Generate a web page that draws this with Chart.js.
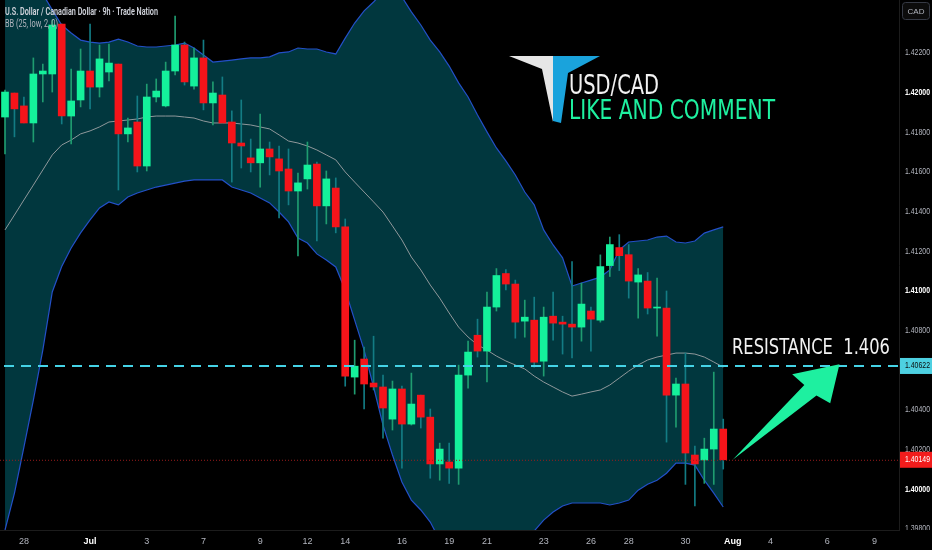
<!DOCTYPE html>
<html>
<head>
<meta charset="utf-8">
<script src="https://cdn.jsdelivr.net/npm/chart.js@4.4.1/dist/chart.umd.min.js"></script>
<style>
  html, body { margin: 0; background: #000; }
  #wrap { width: 932px; height: 550px; position: relative; }
</style>
</head>
<body>
<div id="wrap"><canvas id="chart-usdcad"></canvas></div>
<script>
// 9h candles (index 0 = first visible candle)
const open = [
  1.41877, 1.41998, 1.41933, 1.41847, 1.42094, 1.42094, 1.42346, 1.41882, 1.41963, 1.42109,
  1.42028, 1.42104, 1.42144, 1.41792, 1.41852, 1.41630, 1.41978, 1.41933, 1.42109, 1.42240,
  1.42033, 1.42175, 1.41948, 1.41988, 1.41852, 1.41746, 1.41671, 1.41646, 1.41716, 1.41666,
  1.41615, 1.41504, 1.41565, 1.41640, 1.41429, 1.41519, 1.41323, 1.40566, 1.40657, 1.40536,
  1.40516, 1.40354, 1.40506, 1.40329, 1.40475, 1.40364, 1.40128, 1.40138, 1.40107, 1.40576,
  1.40777, 1.40697, 1.40919, 1.41088, 1.41035, 1.40848, 1.40853, 1.40646, 1.40873, 1.40843,
  1.40833, 1.40818, 1.40899, 1.40853, 1.41128, 1.41219, 1.41183, 1.41045, 1.41050, 1.40914,
  1.40914, 1.40475, 1.40531, 1.40173, 1.40148, 1.40203, 1.40304
];
const high = [
  1.42013, 1.41998, 1.41978, 1.42175, 1.42144, 1.42366, 1.42346, 1.42119, 1.42220, 1.42346,
  1.42240, 1.42245, 1.42144, 1.41872, 1.41983, 1.42043, 1.42069, 1.42154, 1.42386, 1.42255,
  1.42225, 1.42265, 1.42054, 1.42079, 1.41908, 1.41963, 1.41766, 1.41892, 1.41751, 1.41731,
  1.41716, 1.41595, 1.41751, 1.41650, 1.41605, 1.41570, 1.41363, 1.40752, 1.40717, 1.40772,
  1.40576, 1.40546, 1.40520, 1.40586, 1.40475, 1.40405, 1.40233, 1.40233, 1.40626, 1.40747,
  1.40858, 1.40995, 1.41113, 1.41108, 1.41055, 1.40954, 1.40969, 1.40919, 1.40995, 1.40873,
  1.41148, 1.41040, 1.40919, 1.41182, 1.41272, 1.41284, 1.41234, 1.41113, 1.41093, 1.41065,
  1.41000, 1.40561, 1.40687, 1.40218, 1.40258, 1.40591, 1.40354
];
const low = [
  1.41691, 1.41777, 1.41847, 1.41751, 1.41953, 1.42003, 1.41842, 1.41741, 1.41928, 1.41918,
  1.41978, 1.42059, 1.41509, 1.41751, 1.41600, 1.41605, 1.41953, 1.41928, 1.42089, 1.42038,
  1.42018, 1.41913, 1.41837, 1.41847, 1.41549, 1.41620, 1.41600, 1.41524, 1.41585, 1.41368,
  1.41434, 1.41177, 1.41514, 1.41252, 1.41338, 1.41293, 1.40520, 1.40480, 1.40405, 1.40501,
  1.40258, 1.40299, 1.40107, 1.40324, 1.40309, 1.40056, 1.40046, 1.40030, 1.40025, 1.40510,
  1.40667, 1.40541, 1.40899, 1.41005, 1.40762, 1.40767, 1.40616, 1.40571, 1.40752, 1.40682,
  1.40662, 1.40747, 1.40697, 1.40843, 1.41073, 1.41103, 1.40964, 1.40863, 1.40884, 1.40772,
  1.40238, 1.40314, 1.40025, 1.39916, 1.40030, 1.40025, 1.40102
];
const close = [
  1.42003, 1.41918, 1.41847, 1.42094, 1.42109, 1.42341, 1.41882, 1.41958, 1.42109, 1.42028,
  1.42170, 1.42149, 1.41792, 1.41822, 1.41630, 1.41978, 1.42008, 1.42109, 1.42240, 1.42054,
  1.42175, 1.41948, 1.41998, 1.41847, 1.41746, 1.41731, 1.41646, 1.41716, 1.41676, 1.41605,
  1.41504, 1.41545, 1.41635, 1.41429, 1.41565, 1.41323, 1.40571, 1.40621, 1.40531, 1.40516,
  1.40410, 1.40506, 1.40329, 1.40430, 1.40364, 1.40128, 1.40203, 1.40107, 1.40576, 1.40692,
  1.40697, 1.40919, 1.41078, 1.41035, 1.40843, 1.40868, 1.40641, 1.40868, 1.40838, 1.40833,
  1.40818, 1.40934, 1.40858, 1.41123, 1.41234, 1.41178, 1.41050, 1.41081, 1.40914, 1.40919,
  1.40475, 1.40531, 1.40183, 1.40128, 1.40203, 1.40304, 1.40149
];

// Bollinger bands BB (25, low, 2, 0)
const bbUpper = [
  1.42769, 1.42709, 1.42643, 1.42578, 1.42497, 1.42417, 1.42341, 1.42301, 1.42265, 1.42255,
  1.42250, 1.42255, 1.42270, 1.42255, 1.42235, 1.42230, 1.42230, 1.42235, 1.42240, 1.42250,
  1.42225, 1.42190, 1.42154, 1.42159, 1.42164, 1.42170, 1.42175, 1.42175, 1.42180, 1.42200,
  1.42205, 1.42225, 1.42220, 1.42220, 1.42205, 1.42195, 1.42275, 1.42351, 1.42412, 1.42457,
  1.42507, 1.42517, 1.42482, 1.42407, 1.42341, 1.42265, 1.42205, 1.42134, 1.42049, 1.41978,
  1.41887, 1.41802, 1.41721, 1.41656, 1.41585, 1.41499, 1.41434, 1.41308, 1.41232, 1.41167,
  1.41025, 1.41040, 1.41055, 1.41070, 1.41106, 1.41207, 1.41247, 1.41252, 1.41257, 1.41272,
  1.41277, 1.41247, 1.41242, 1.41252, 1.41292, 1.41308, 1.41323
];
const bbMid = [
  1.41308, 1.41383, 1.41459, 1.41534, 1.41610, 1.41686, 1.41736, 1.41761, 1.41792, 1.41807,
  1.41827, 1.41852, 1.41857, 1.41862, 1.41867, 1.41877, 1.41882, 1.41882, 1.41882, 1.41877,
  1.41872, 1.41857, 1.41847, 1.41847, 1.41847, 1.41842, 1.41837, 1.41827, 1.41817, 1.41787,
  1.41756, 1.41746, 1.41731, 1.41711, 1.41686, 1.41661, 1.41600, 1.41549, 1.41499, 1.41449,
  1.41398, 1.41328, 1.41257, 1.41171, 1.41106, 1.41030, 1.40964, 1.40889, 1.40818, 1.40768,
  1.40728, 1.40702, 1.40672, 1.40647, 1.40627, 1.40607, 1.40571, 1.40541, 1.40516, 1.40491,
  1.40470, 1.40480, 1.40491, 1.40501, 1.40526, 1.40561, 1.40596, 1.40627, 1.40652, 1.40667,
  1.40677, 1.40687, 1.40687, 1.40682, 1.40667, 1.40642, 1.40616
];
const bbLower = [
  1.39795, 1.39981, 1.40213, 1.40450, 1.40702, 1.40995, 1.41123, 1.41217, 1.41293, 1.41358,
  1.41419, 1.41449, 1.41434, 1.41474, 1.41494, 1.41509, 1.41524, 1.41534, 1.41544, 1.41554,
  1.41560, 1.41560, 1.41560, 1.41560, 1.41524, 1.41509, 1.41494, 1.41469, 1.41444, 1.41398,
  1.41348, 1.41267, 1.41242, 1.41187, 1.41156, 1.41121, 1.41005, 1.40853, 1.40702, 1.40516,
  1.40324, 1.40173, 1.40037, 1.39946, 1.39896, 1.39835, 1.39744, 1.39679, 1.39634, 1.39603,
  1.39588, 1.39593, 1.39613, 1.39644, 1.39684, 1.39734, 1.39790, 1.39845, 1.39886, 1.39916,
  1.39931, 1.39931, 1.39931, 1.39931, 1.39921, 1.39931, 1.39946, 1.39996, 1.40026, 1.40046,
  1.40081, 1.40132, 1.40132, 1.40122, 1.40046, 1.39981, 1.39911
];

// time axis labels (candle index -> label)
const tickIdx = [2, 9, 15, 21, 27, 32, 36, 42, 47, 51, 57, 62, 66, 72, 77, 81, 87, 92];
const tickText = ['28', 'Jul', '3', '7', '9', '12', '14', '16', '19', '21', '23', '26', '28', '30', 'Aug', '4', '6', '9'];
const monthTicks = ['Jul', 'Aug'];

// price levels
const resistance = 1.40622;
const lastPrice = 1.40149;
const arrowFrom = [77, 1.40149];
const arrowTo = [88.3, 1.40631];

const COLORS = {
  up: '#14f19b',
  down: '#f5141a',
  wickUp: '#1f9c70',
  wickDown: '#137c84',
  band: '#2350c8',
  bandFill: 'rgb(1,55,62)',
  mid: '#8f989b',
  cyan: '#45d3e6',
  axisText: '#b2b5be'
};

const idx = open.map((_, i) => i);
const isUp = i => close[i] >= open[i];

const overlay = {
  id: 'overlay',
  afterDraw(chart) {
    const { ctx, chartArea: a, scales: { x, y } } = chart;
    ctx.save();

    // price axis labels (cut at the bottom of the plot like the original)
    ctx.save();
    ctx.beginPath();
    ctx.rect(a.right, 0, 40, a.bottom);
    ctx.clip();
    ctx.textBaseline = 'middle';
    ctx.textAlign = 'left';
    for (const t of y.ticks) {
      const v = +t.value.toFixed(5);
      const py = y.getPixelForValue(v);
      const whole = Math.abs(v * 100 - Math.round(v * 100)) < 1e-6;
      ctx.font = (whole ? 'bold ' : '') + '9px "Liberation Sans"';
      ctx.fillStyle = whole ? '#ffffff' : COLORS.axisText;
      ctx.fillText(v.toFixed(5), 905, py, 25);
    }
    ctx.restore();

    // resistance dashed line
    const ry = y.getPixelForValue(resistance);
    ctx.strokeStyle = COLORS.cyan;
    ctx.lineWidth = 2;
    ctx.setLineDash([10, 7]);
    ctx.beginPath();
    ctx.moveTo(a.left + 4, ry);
    ctx.lineTo(a.right, ry);
    ctx.stroke();

    // last price dotted line
    const ly = y.getPixelForValue(lastPrice);
    ctx.strokeStyle = '#9a1c1c';
    ctx.lineWidth = 1;
    ctx.setLineDash([1, 2]);
    ctx.beginPath();
    ctx.moveTo(a.left, ly + 0.5);
    ctx.lineTo(a.right, ly + 0.5);
    ctx.stroke();
    ctx.setLineDash([]);

    // axis price boxes
    ctx.textBaseline = 'middle';
    ctx.textAlign = 'left';
    ctx.fillStyle = '#4dd0e1';
    ctx.fillRect(a.right + 1, ry - 8, 32, 16);
    ctx.fillStyle = '#0b0b0b';
    ctx.font = '9px "Liberation Sans"';
    ctx.fillText(resistance.toFixed(5), 905, ry, 25);
    ctx.fillStyle = '#f21c1c';
    ctx.fillRect(a.right + 1, ly - 8, 32, 16);
    ctx.fillStyle = '#ffffff';
    ctx.fillText(lastPrice.toFixed(5), 905, ly, 25);

    // currency box
    ctx.strokeStyle = '#363a45';
    ctx.fillStyle = '#0c0c0c';
    ctx.beginPath();
    ctx.roundRect(902.5, 2.5, 27, 17, 3);
    ctx.fill();
    ctx.stroke();
    ctx.fillStyle = COLORS.axisText;
    ctx.textAlign = 'center';
    ctx.font = '8px "Liberation Sans"';
    ctx.fillText('CAD', 916, 11.5);

    // header
    ctx.textAlign = 'left';
    ctx.textBaseline = 'alphabetic';
    ctx.font = '600 10px Roboto';
    ctx.fillStyle = '#d1d4dc';
    ctx.fillText('U.S. Dollar / Canadian Dollar · 9h · Trade Nation', 5, 15, 153);
    ctx.font = '10px Roboto';
    ctx.fillStyle = COLORS.axisText;
    ctx.fillText('BB (25, low, 2, 0)', 5, 27, 53);

    // logo
    ctx.fillStyle = '#e6e6e6';
    ctx.beginPath();
    ctx.moveTo(509, 56); ctx.lineTo(553, 56); ctx.lineTo(553, 122); ctx.lineTo(542, 69);
    ctx.closePath();
    ctx.fill();
    ctx.fillStyle = '#1aa3dc';
    ctx.beginPath();
    ctx.moveTo(553, 56); ctx.lineTo(600, 56); ctx.lineTo(568, 73); ctx.lineTo(561, 123); ctx.lineTo(553, 121);
    ctx.closePath();
    ctx.fill();

    ctx.font = '27px "DejaVu Sans"';
    ctx.fillStyle = '#f2f2f2';
    ctx.fillText('USD/CAD', 569, 94, 90);
    ctx.fillStyle = '#1ef0a0';
    ctx.fillText('LIKE AND COMMENT', 569, 119, 206);

    // resistance text
    ctx.font = '22px "DejaVu Sans"';
    ctx.fillStyle = '#f2f2f2';
    ctx.fillText('RESISTANCE  1.406', 732, 354, 158);

    // arrow
    const tx = x.getPixelForValue(arrowFrom[0]), ty = y.getPixelForValue(arrowFrom[1]);
    const hx = x.getPixelForValue(arrowTo[0]), hy = y.getPixelForValue(arrowTo[1]);
    const len = Math.hypot(hx - tx, hy - ty);
    const ux = (hx - tx) / len, uy = (hy - ty) / len;
    const nx = -uy, ny = ux;
    const pt = (u, n) => [hx + ux * u + nx * n, hy + uy * u + ny * n];
    const shape = [
      [tx, ty],
      pt(-38, 8),
      pt(-33, 23),
      [hx, hy],
      pt(-42, -24),
      pt(-40, -8)
    ];
    ctx.fillStyle = '#1ef0a0';
    ctx.beginPath();
    shape.forEach((p, k) => (k ? ctx.lineTo(p[0], p[1]) : ctx.moveTo(p[0], p[1])));
    ctx.closePath();
    ctx.fill();

    ctx.restore();
  }
};

new Chart(document.getElementById('chart-usdcad'), {
  type: 'bar',
  data: {
    datasets: [
      {
        type: 'line',
        data: idx.map(i => ({ x: i, y: bbLower[i] })),
        borderColor: COLORS.band,
        borderWidth: 1.2,
        pointRadius: 0,
        fill: false,
        order: 5
      },
      {
        type: 'line',
        data: idx.map(i => ({ x: i, y: bbUpper[i] })),
        borderColor: COLORS.band,
        borderWidth: 1.2,
        pointRadius: 0,
        fill: '-1',
        backgroundColor: COLORS.bandFill,
        order: 4
      },
      {
        type: 'line',
        data: idx.map(i => ({ x: i, y: bbMid[i] })),
        borderColor: COLORS.mid,
        borderWidth: 1,
        pointRadius: 0,
        fill: false,
        order: 3
      },
      {
        data: idx.map(i => ({ x: i, y: [low[i], high[i]] })),
        backgroundColor: ctx => (isUp(ctx.dataIndex) ? COLORS.wickUp : COLORS.wickDown),
        barThickness: 1,
        grouped: false,
        order: 2
      },
      {
        data: idx.map(i => ({ x: i, y: [open[i], close[i]] })),
        backgroundColor: ctx => (isUp(ctx.dataIndex) ? COLORS.up : COLORS.down),
        barThickness: 7,
        minBarLength: 1,
        grouped: false,
        order: 1
      }
    ]
  },
  options: {
    responsive: true,
    maintainAspectRatio: false,
    animation: false,
    layout: { padding: 0 },
    plugins: {
      legend: { display: false },
      tooltip: { enabled: false },
      filler: { drawTime: 'beforeDatasetsDraw' }
    },
    scales: {
      x: {
        type: 'linear',
        min: -0.53,
        max: 94.6,
        offset: false,
        grid: { display: false, drawTicks: false },
        border: { color: '#1c1c1c' },
        afterBuildTicks: s => { s.ticks = tickIdx.map(v => ({ value: v })); },
        afterFit: s => { s.height = 20; },
        ticks: {
          autoSkip: false,
          maxRotation: 0,
          padding: 6,
          callback: (v, k) => tickText[k],
          color: c => (monthTicks.includes(tickText[c.index]) ? '#ffffff' : COLORS.axisText),
          font: c => ({ family: '"Liberation Sans"', size: 9, weight: monthTicks.includes(tickText[c.index]) ? 'bold' : 'normal' })
        }
      },
      y: {
        position: 'right',
        min: 1.39795,
        max: 1.42467,
        grid: { display: false, drawTicks: false },
        border: { color: '#1c1c1c' },
        afterFit: s => { s.width = 33; },
        ticks: { display: false, stepSize: 0.002, includeBounds: false }
      }
    }
  },
  plugins: [overlay]
});
</script>
</body>
</html>
